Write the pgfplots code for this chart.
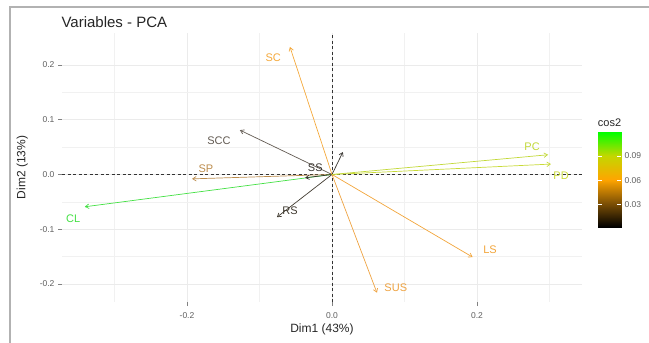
\documentclass[border=0pt]{standalone}
\usepackage{pgfplots}
\pgfplotsset{compat=1.18}
\usepackage{fontspec}
\setmainfont{Liberation Sans}
\usetikzlibrary{arrows.meta}
\definecolor{cCL}{HTML}{44E044}
\definecolor{cPC}{HTML}{C2D838}
\definecolor{cPD}{HTML}{C8DA38}
\definecolor{cSC}{HTML}{F4A83A}
\definecolor{cLS}{HTML}{F2A53A}
\definecolor{cSUS}{HTML}{EEA240}
\definecolor{cSP}{HTML}{BC8C4C}
\definecolor{cSCC}{HTML}{625A52}
\definecolor{cRS}{HTML}{403A30}
\definecolor{cSS}{HTML}{383430}
\definecolor{tickgrey}{HTML}{4D4D4D}
\definecolor{gridgrey}{HTML}{EBEBEB}
\pgfplotsset{colormap={cos2}{rgb255(0)=(0,0,0) rgb255(0.25)=(125,80,5) rgb255(0.5)=(255,165,0) rgb255(0.75)=(195,215,0) rgb255(1)=(0,255,0)}}
\newcommand{\lab}{\fontsize{11}{12}\selectfont}
\tikzset{arr/.style={line width=0.7pt, -{Straight Barb[length=3.5pt,width=4.5pt]}}}
\begin{document}
\begin{tikzpicture}
\path[use as bounding box] (0,0) rectangle (649pt,-343pt);
\draw[gray!60, line width=1.5pt] (10pt,-343pt) -- (10pt,-7pt) -- (649pt,-7pt);
\node[anchor=west, font=\fontsize{15}{16}\selectfont, text=black!85] at (58pt,-22pt) {Variables - PCA};
\begin{axis}[
  at={(62pt,-302pt)}, anchor=south west,
  scale only axis, width=520pt, height=269pt,
  xmin=-0.3724, xmax=0.3448, ymin=-0.2329, ymax=0.2584,
  axis line style={draw=none},
  xtick={-0.2,0,0.2}, xticklabels={-0.2,0.0,0.2},
  minor xtick={-0.3,-0.1,0.1,0.3},
  ytick={-0.2,-0.1,0,0.1,0.2}, yticklabels={-0.2,-0.1,0.0,0.1,0.2},
  minor ytick={-0.15,-0.05,0.05,0.15},
  grid=both,
  major grid style={gridgrey, line width=0.6pt},
  minor grid style={gridgrey!70, line width=0.35pt},
  tick pos=left, tick align=outside,
  major tick length=4pt, minor tick length=0pt,
  tick style={tickgrey!70, line width=0.5pt},
  ticklabel style={font=\fontsize{8.5}{9}\selectfont, text=tickgrey!90},
  xticklabel style={yshift=-3pt},
  xlabel={Dim1 (43\%)}, ylabel={Dim2 (13\%)},
  label style={font=\fontsize{12}{13}\selectfont, text=black!85},
  xlabel style={yshift=2pt},
  ylabel style={yshift=5pt},
  clip=false,
]
\addplot[black!80, line width=0.5pt, dash pattern=on 3pt off 2.5pt] coordinates {(-0.3724,0) (0.3448,0)};
\addplot[black!80, line width=0.5pt, dash pattern=on 3pt off 2.5pt] coordinates {(0,-0.2329) (0,0.2584)};
% arrows (coord of variables)
\addplot[arr, cSP]  coordinates {(0,0) (-0.193,-0.008)};
\addplot[arr, cCL]  coordinates {(0,0) (-0.341,-0.059)};
\addplot[arr, cSCC] coordinates {(0,0) (-0.127,0.081)};
\addplot[arr, cRS]  coordinates {(0,0) (-0.076,-0.078)};
\addplot[arr, cSS]  coordinates {(0,0) (-0.037,-0.006)};
\addplot[arr, cSS]  coordinates {(0,0) (0.015,0.041)};
\addplot[arr, cSC]  coordinates {(0,0) (-0.058,0.233)};
\addplot[arr, cLS]  coordinates {(0,0) (0.194,-0.151)};
\addplot[arr, cSUS] coordinates {(0,0) (0.062,-0.216)};
\addplot[arr, cPC]  coordinates {(0,0) (0.298,0.036)};
\addplot[arr, cPD]  coordinates {(0,0) (0.302,0.019)};
% labels
\node[text=cSC,  font=\lab] at (axis cs:-0.081,0.214) {SC};
\node[text=cSCC, font=\lab] at (axis cs:-0.156,0.061) {SCC};
\node[text=cSP,  font=\lab] at (axis cs:-0.174,0.010) {SP};
\node[text=cCL,  font=\lab] at (axis cs:-0.357,-0.080) {CL};
\node[text=cRS,  font=\lab] at (axis cs:-0.058,-0.067) {RS};
\node[text=cSS,  font=\lab] at (axis cs:-0.023,0.012) {SS};
\node[text=cPC,  font=\lab] at (axis cs:0.276,0.050) {PC};
\node[text=cPD,  font=\lab] at (axis cs:0.316,-0.003) {PD};
\node[text=cLS,  font=\lab] at (axis cs:0.218,-0.138) {LS};
\node[text=cSUS, font=\lab] at (axis cs:0.088,-0.206) {SUS};
\end{axis}
\begin{axis}[
  at={(598pt,-227pt)}, anchor=south west,
  scale only axis, width=23pt, height=95pt,
  xmin=0, xmax=1, ymin=0.0015, ymax=0.12,
  axis line style={draw=none},
  xtick=\empty,
  ytick={0.03,0.06,0.09}, yticklabels={0.03,0.06,0.09},
  ytick pos=both, yticklabel pos=right,
  tick align=inside, major tick length=4pt,
  tick style={white, line width=0.6pt},
  ticklabel style={font=\fontsize{8.5}{9}\selectfont, text=tickgrey!90},
  colormap name=cos2, point meta min=0.0015, point meta max=0.12,
  axis on top,
  title={cos2}, title style={font=\fontsize{11}{12}\selectfont, text=black!85, yshift=-4pt},
]
\addplot[surf, shader=interp, mesh/cols=2, point meta=y] coordinates {(0,0.0015) (1,0.0015) (0,0.12) (1,0.12)};
\end{axis}
\end{tikzpicture}
\end{document}
